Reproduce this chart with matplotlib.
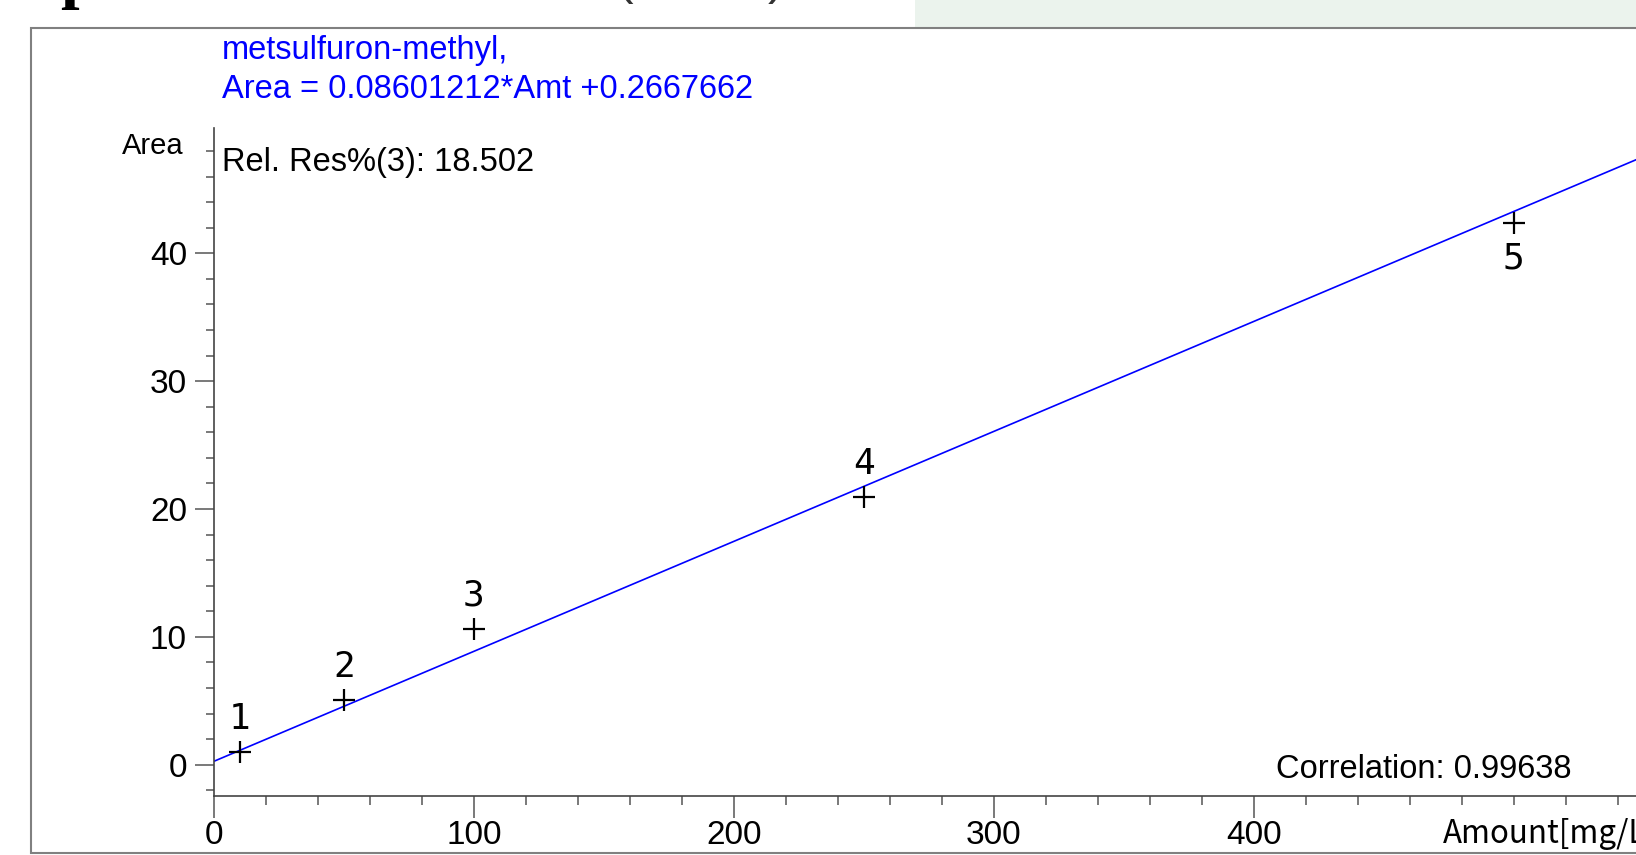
import matplotlib
matplotlib.use("Agg")
import matplotlib.pyplot as plt
from matplotlib.ticker import MultipleLocator
from matplotlib.patches import Rectangle

# ---- data ----
amounts = [10, 50, 100, 250, 500]
areas = [1.0, 5.05, 10.6, 20.9, 42.4]
point_labels = ["1", "2", "3", "4", "5"]
label_above = [True, True, True, True, False]
slope = 0.08601212
intercept = 0.2667662
compound = "metsulfuron-methyl,"
equation = "Area = 0.08601212*Amt +0.2667662"
relres_text = "Rel. Res%(3): 18.502"
corr_text = "Correlation: 0.99638"
x_ticks = [0, 100, 200, 300, 400]
y_ticks = [0, 10, 20, 30, 40]
xlabel = "Amount[mg/L]"
ylabel = "Area"

W, H = 1636, 855
DPI = 100
fig = plt.figure(figsize=(W / DPI, H / DPI), dpi=DPI)
fig.patch.set_facecolor("white")

def fx(x):
    return x / W

def fy(y):
    return 1 - y / H

SANS = ["Liberation Sans", "DejaVu Sans"]
FS = 23.5

# slide background fragment on top
fig.patches.append(Rectangle((fx(915), fy(29)), 1 - fx(915), 29 / H,
                             transform=fig.transFigure, facecolor="#ebf3ed",
                             edgecolor="none", zorder=-2))
fig.text(fx(60), 1 + 4 / H, "p", fontsize=48, family="Liberation Serif",
         fontweight="bold", va="baseline", ha="left", color="black")
fig.text(fx(617), 1 + 6 / H, "(", fontsize=36, family="Liberation Sans",
         va="baseline", ha="left", color="#333333")
fig.text(fx(768), 1 + 6 / H, ")", fontsize=36, family="Liberation Sans",
         va="baseline", ha="left", color="#333333")

# outer frame of the report panel
frame = Rectangle((fx(31), fy(853)), 1.2, (853 - 28) / H, transform=fig.transFigure,
                  facecolor="white", edgecolor="#808080", linewidth=1.5, zorder=-1)
fig.patches.append(frame)

# axes
x0_px, xmax_val = 214, 547
ax = fig.add_axes([fx(x0_px), fy(796), 1 - fx(x0_px), (796 - 128) / H])
ax.set_zorder(2)
ax.set_facecolor("none")
ax.set_xlim(0, xmax_val)
ax.set_ylim(-2.45, 49.8)

for s in ["top", "right"]:
    ax.spines[s].set_visible(False)
for s in ["left", "bottom"]:
    ax.spines[s].set_color("#444444")
    ax.spines[s].set_linewidth(1.2)

ax.set_xticks(x_ticks)
ax.set_yticks(y_ticks)
ax.xaxis.set_minor_locator(MultipleLocator(20))
ax.yaxis.set_minor_locator(MultipleLocator(2))
ax.tick_params(axis="x", which="major", length=16, width=1.1, color="#555555",
               pad=1.5, labelsize=24)
ax.tick_params(axis="x", which="minor", length=6.5, width=1.1, color="#555555")
ax.tick_params(axis="y", which="major", length=14, width=1.1, color="#555555",
               pad=5.5, labelsize=24)
ax.tick_params(axis="y", which="minor", length=6, width=1.1, color="#555555")
for lab in ax.get_xticklabels() + ax.get_yticklabels():
    lab.set_family(SANS)

# regression line
xs = [0, xmax_val]
ax.plot(xs, [slope * x + intercept for x in xs], color="#0000ff", linewidth=1.2,
        zorder=2, clip_on=True)

# points
ax.plot(amounts, areas, linestyle="none", marker="+", markersize=16,
        markeredgewidth=1.6, color="black", zorder=3)
for x, y, lab, above in zip(amounts, areas, point_labels, label_above):
    ax.annotate(lab, (x, y), xytext=(0, 24 if above else -26), textcoords="offset points",
                ha="center", va="center", fontsize=26,
                family=["DejaVu Sans Mono"], color="black")

# texts
fig.text(fx(222), fy(59), compound, color="#0000ff", fontsize=FS, family=SANS,
         ha="left", va="baseline")
fig.text(fx(222), fy(98), equation, color="#0000ff", fontsize=FS, family=SANS,
         ha="left", va="baseline")
fig.text(fx(222), fy(171), relres_text, color="black", fontsize=FS, family=SANS,
         ha="left", va="baseline")
fig.text(fx(1571), fy(778), corr_text, color="black", fontsize=FS, family=SANS,
         ha="right", va="baseline")
fig.text(fx(184), fy(154), ylabel, color="black", fontsize=21, family=SANS,
         ha="right", va="baseline")
fig.text(fx(1443), fy(843), xlabel, color="black", fontsize=22.5,
         family=["Noto Sans CJK JP", "DejaVu Sans"], ha="left", va="baseline")

fig.savefig("out.png", dpi=DPI)
